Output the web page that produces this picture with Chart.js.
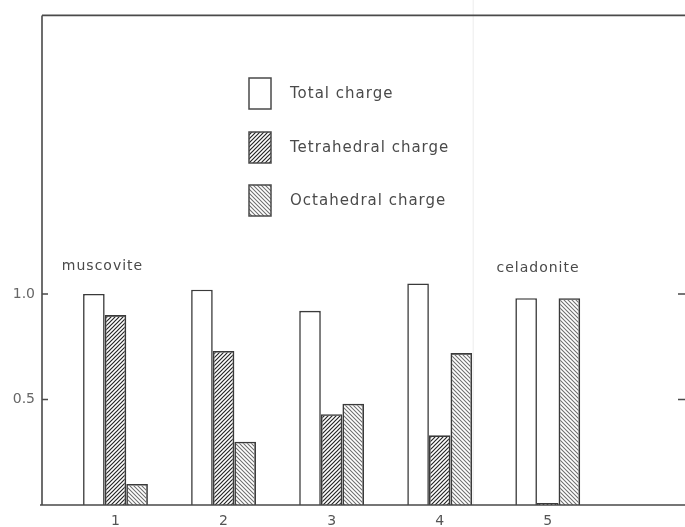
<!DOCTYPE html>
<html>
<head>
<meta charset="utf-8">
<script src="https://cdn.jsdelivr.net/npm/chart.js@4.4.1/dist/chart.umd.min.js"></script>
<style>
    html, body { margin: 0; padding: 0; background: #fff; }
    #wrap { width: 685px; height: 527px; }
</style>
</head>
<body>
<div id="wrap"><canvas id="chart" width="685" height="527"></canvas></div>
<script>
// Layer charge of the mica samples (1-5)
const categories = [1, 2, 3, 4, 5];
const totalCharge = [1.00, 1.02, 0.92, 1.05, 0.98];
const tetrahedralCharge = [0.90, 0.73, 0.43, 0.33, 0.01];
const octahedralCharge = [0.10, 0.30, 0.48, 0.72, 0.98];
const yTickValues = [0.5, 1.0];
const seriesNames = ['Total charge', 'Tetrahedral charge', 'Octahedral charge'];
const mineralLabels = ['muscovite', 'celadonite'];

(function() {
    const ink = '#4a4a4a';
    const font = '"DejaVu Sans", sans-serif';

    // hatch fill for the shaded bars
    function makeHatch(direction, color, width) {
        const size = 4;
        const c = document.createElement('canvas');
        c.width = size;
        c.height = size;
        const g = c.getContext('2d');
        g.strokeStyle = color;
        g.lineWidth = width;
        g.beginPath();
        if (direction === 'up') {
            g.moveTo(-1, size + 1); g.lineTo(size + 1, -1);
            g.moveTo(-1, 1); g.lineTo(1, -1);
            g.moveTo(size - 1, size + 1); g.lineTo(size + 1, size - 1);
        } else {
            g.moveTo(-1, -1); g.lineTo(size + 1, size + 1);
            g.moveTo(size - 1, -1); g.lineTo(size + 1, 1);
            g.moveTo(-1, size - 1); g.lineTo(1, size + 1);
        }
        g.stroke();
        return g.createPattern(c, 'repeat');
    }

    const tetraFill = makeHatch('up', '#262626', 1.2);
    const octaFill = makeHatch('down', '#6e6e6e', 1.05);

    function points(values) {
        return categories.map((c, i) => ({ x: c, y: values[i] }));
    }

    const fills = ['#ffffff', tetraFill, octaFill];
    const series = [totalCharge, tetrahedralCharge, octahedralCharge];

    // frame, inward ticks, faint fold line
    const framePlugin = {
        id: 'frame',
        afterDatasetsDraw(chart) {
            const { ctx, chartArea: a, scales } = chart;
            ctx.save();
            // faint fold in the scanned sheet
            const fx = scales.x.getPixelForValue(4.31);
            ctx.strokeStyle = '#ececec';
            ctx.lineWidth = 1;
            ctx.beginPath();
            ctx.moveTo(fx, 0);
            ctx.lineTo(fx, a.bottom);
            ctx.stroke();

            ctx.strokeStyle = ink;
            ctx.lineWidth = 1.6;
            ctx.beginPath();
            ctx.moveTo(a.left, a.top);
            ctx.lineTo(a.right, a.top);
            ctx.moveTo(a.left, a.top);
            ctx.lineTo(a.left, a.bottom);
            ctx.moveTo(a.left - 2, a.bottom);
            ctx.lineTo(a.right, a.bottom);
            yTickValues.forEach(v => {
                const py = scales.y.getPixelForValue(v);
                ctx.moveTo(a.left, py);
                ctx.lineTo(a.left + 6, py);
                ctx.moveTo(a.right - 7, py);
                ctx.lineTo(a.right, py);
            });
            ctx.stroke();
            ctx.restore();
        }
    };

    // legend boxes and mineral names
    const notesPlugin = {
        id: 'notes',
        afterDraw(chart) {
            const { ctx, scales } = chart;
            ctx.save();
            ctx.letterSpacing = '1px';
            ctx.font = '15px ' + font;
            ctx.textBaseline = 'middle';

            const boxX = 249, boxW = 22, boxH = 31;
            const rows = [78, 132, 185];
            rows.forEach((top, i) => {
                ctx.fillStyle = '#fff';
                ctx.fillRect(boxX, top, boxW, boxH);
                ctx.fillStyle = fills[i];
                ctx.fillRect(boxX, top, boxW, boxH);
                ctx.strokeStyle = ink;
                ctx.lineWidth = 1.5;
                ctx.strokeRect(boxX, top, boxW, boxH);
                ctx.fillStyle = ink;
                ctx.textAlign = 'left';
                ctx.fillText(seriesNames[i], 290, top + boxH / 2 + 1);
            });

            ctx.font = '14px ' + font;
            ctx.textAlign = 'center';
            ctx.fillText(mineralLabels[0], scales.x.getPixelForValue(0.88), scales.y.getPixelForValue(1.13));
            ctx.fillText(mineralLabels[1], scales.x.getPixelForValue(4.91), scales.y.getPixelForValue(1.12));
            ctx.restore();
        }
    };

    new Chart(document.getElementById('chart'), {
        type: 'bar',
        data: {
            datasets: series.map((values, i) => ({
                label: seriesNames[i],
                data: points(values),
                backgroundColor: fills[i],
                borderColor: '#3a3a3a',
                borderWidth: 1.6,
                borderSkipped: 'start',
                barPercentage: 1,
                categoryPercentage: 0.6
            }))
        },
        options: {
            responsive: false,
            animation: false,
            layout: { padding: { top: 12, right: 0, left: 0, bottom: 0 } },
            scales: {
                x: {
                    type: 'linear',
                    offset: false,
                    min: 0.32,
                    max: 6.27,
                    grid: { display: false, drawTicks: false },
                    border: { display: false },
                    afterBuildTicks: (scale) => {
                        scale.ticks = categories.map(v => ({ value: v }));
                    },
                    afterFit: (scale) => { scale.height = 22; },
                    ticks: {
                        padding: 8,
                        color: '#555',
                        font: { family: font, size: 14 },
                        callback: (v) => String(v)
                    }
                },
                y: {
                    min: 0,
                    max: 2.32,
                    grid: { display: false, drawTicks: false },
                    border: { display: false },
                    afterBuildTicks: (scale) => {
                        scale.ticks = yTickValues.map(v => ({ value: v }));
                    },
                    afterFit: (scale) => { scale.width = 42; },
                    ticks: {
                        padding: 7,
                        color: '#666',
                        font: { family: font, size: 14 },
                        callback: (v) => v.toFixed(1)
                    }
                }
            },
            plugins: {
                legend: { display: false },
                tooltip: { enabled: false }
            }
        },
        plugins: [framePlugin, notesPlugin]
    });
})();
</script>
</body>
</html>
